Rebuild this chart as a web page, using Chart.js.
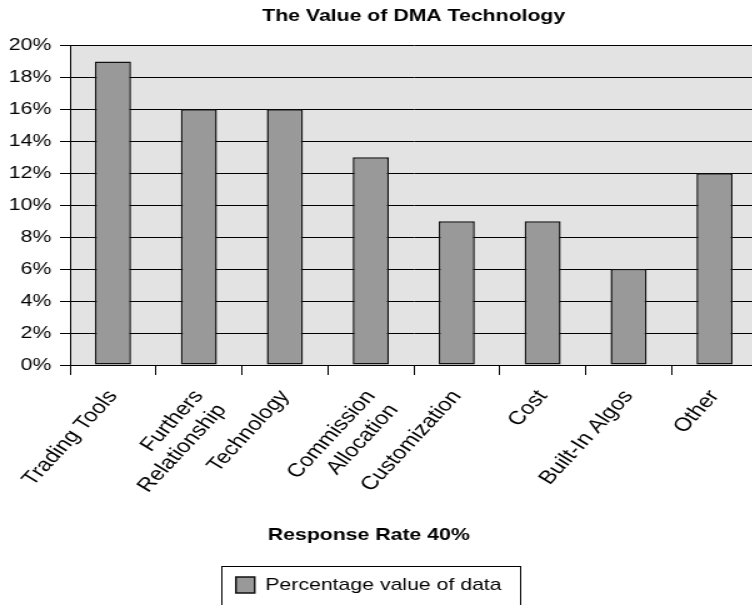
<!DOCTYPE html>
<html>
<head>
<meta charset="utf-8">
<script src="https://cdn.jsdelivr.net/npm/chart.js@4"></script>
<style>
  html, body { margin: 0; padding: 0; background: #fff; overflow: hidden; }
  /* chart is drawn narrow and stretched sideways */
  #wrap { width: 608px; height: 605px; transform: scaleX(1.25); transform-origin: 0 0; }
</style>
</head>
<body>
<div id="wrap"><canvas id="dmaChart" width="608" height="605"></canvas></div>
<script>
// Survey data
const categories = [
    'Trading Tools',
    ['Furthers', 'Relationship'],
    'Technology',
    ['Commission', 'Allocation'],
    'Customization',
    'Cost',
    'Built-In Algos',
    'Other'
];
const responseShare = [19, 16, 16, 13, 9, 9, 6, 12];
const yMax = 20;
const yStep = 2;

Chart.defaults.font.family = '"Liberation Sans", Arial, sans-serif';
Chart.defaults.font.size = 17;
Chart.defaults.color = '#000';

// grey plot background
const plotBg = {
    id: 'plotBg',
    beforeDraw(chart) {
        const { ctx, chartArea: a } = chart;
        ctx.save();
        ctx.fillStyle = '#e3e3e3';
        ctx.fillRect(a.left, a.top, a.right - a.left, a.bottom - a.top);
        ctx.restore();
    }
};

// frame around the legend
const legendFrame = {
    id: 'legendFrame',
    afterDraw(chart) {
        const lg = chart.legend;
        if (!lg || !lg.legendHitBoxes || !lg.legendHitBoxes.length) return;
        const hb = lg.legendHitBoxes[0];
        const ctx = chart.ctx;
        const x0 = Math.round(hb.left - 12) + 0.5;
        const x1 = Math.round(hb.left + hb.width + 15) + 0.5;
        const y0 = Math.round(lg.top) + 0.5;
        ctx.save();
        ctx.strokeStyle = '#000';
        ctx.lineWidth = 1;
        ctx.strokeRect(x0, y0, x1 - x0, chart.height + 10 - y0);
        ctx.restore();
    }
};

new Chart(document.getElementById('dmaChart').getContext('2d'), {
    type: 'bar',
    data: {
        labels: categories,
        datasets: [{
            label: 'Percentage value of data',
            data: responseShare,
            backgroundColor: '#999999',
            borderColor: '#111',
            borderWidth: 1.5,
            borderSkipped: false,
            barPercentage: 0.42,
            categoryPercentage: 1
        }]
    },
    options: {
        responsive: false,
        animation: false,
        devicePixelRatio: 1,
        layout: { padding: { left: -16, right: 2, top: 0, bottom: 1.6 } },
        scales: {
            x: {
                grid: {
                    drawOnChartArea: false,
                    drawTicks: true,
                    tickLength: 10,
                    color: '#000'
                },
                border: { display: true, color: '#000', width: 1 },
                ticks: {
                    minRotation: 53,
                    maxRotation: 53,
                    autoSkip: false,
                    padding: 11,
                    font: { size: 19 }
                },
                afterFit(scale) { scale.height = 130; }
            },
            y: {
                min: 0,
                max: yMax,
                grid: {
                    color: '#000',
                    lineWidth: 1,
                    tickLength: 8
                },
                border: { display: true, color: '#000', width: 1 },
                ticks: {
                    stepSize: yStep,
                    padding: 7,
                    font: { size: 17 },
                    callback: v => v + '%'
                },
                afterFit(scale) { scale.width = 72; }
            }
        },
        plugins: {
            title: {
                display: true,
                text: 'The Value of DMA Technology',
                fullSize: false,
                font: { size: 17, weight: 'bold' },
                padding: { top: 6, bottom: 19 }
            },
            subtitle: {
                display: true,
                text: 'Response Rate 40%',
                position: 'bottom',
                weight: 500,
                font: { size: 17, weight: 'bold' },
                padding: { top: 30, bottom: 21 }
            },
            legend: {
                display: true,
                position: 'bottom',
                weight: 1000,
                labels: {
                    boxWidth: 15,
                    boxHeight: 16,
                    padding: 10,
                    font: { size: 17 }
                }
            },
            tooltip: { enabled: false }
        }
    },
    plugins: [plotBg, legendFrame]
});
</script>
</body>
</html>
